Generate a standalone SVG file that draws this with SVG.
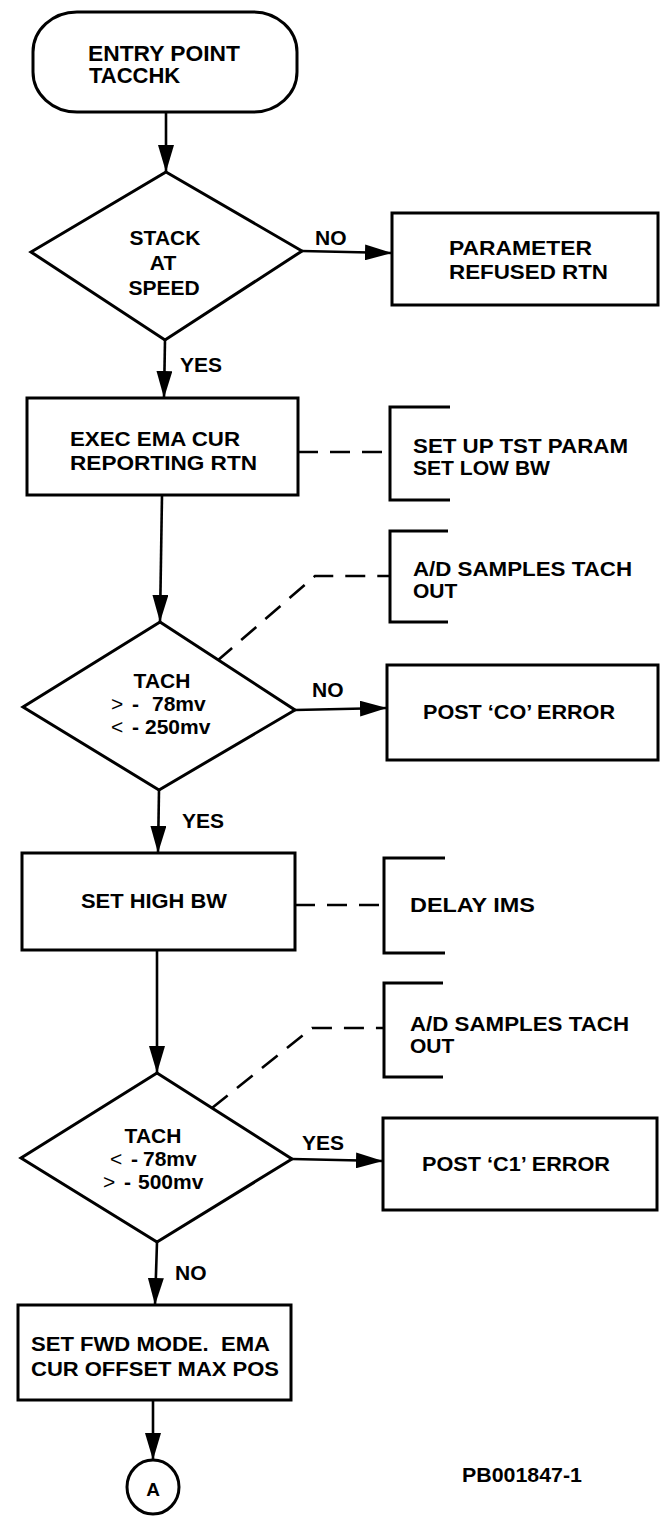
<svg xmlns="http://www.w3.org/2000/svg" width="660" height="1516" viewBox="0 0 660 1516">
<style>
  .shape { fill: #fff; stroke: #000; stroke-width: 3; stroke-linejoin: miter; }
  .bracket { fill: none; stroke: #000; stroke-width: 3; }
  .conn { fill: none; stroke: #000; stroke-width: 2.6; }
  .dash { fill: none; stroke: #000; stroke-width: 2.6; stroke-dasharray: 20 12; }
  text { font-family: "Liberation Sans", Arial, sans-serif; font-weight: bold; font-size: 21px; fill: #000; }
  .mid { text-anchor: middle; }
  .sym { font-weight: normal; font-size: 21px; }
</style>
<defs>
  <marker id="arrow" markerUnits="userSpaceOnUse" markerWidth="27" markerHeight="16" refX="27" refY="8" orient="auto">
    <path d="M0,0 L27,8 L0,16 Z" fill="#000"/>
  </marker>
</defs>

<g id="connectors">
  <line class="conn" x1="166" y1="112" x2="166" y2="172" marker-end="url(#arrow)"/>
  <line class="conn" x1="302" y1="251" x2="392" y2="253" marker-end="url(#arrow)"/>
  <line class="conn" x1="165" y1="340" x2="164" y2="398" marker-end="url(#arrow)"/>
  <polyline class="dash" points="298,452 390,452"/>
  <line class="conn" x1="162" y1="495" x2="160" y2="622" marker-end="url(#arrow)"/>
  <polyline class="dash" points="217,661 315,576 390,576"/>
  <line class="conn" x1="295" y1="710" x2="387" y2="708" marker-end="url(#arrow)"/>
  <line class="conn" x1="159" y1="790" x2="158" y2="853" marker-end="url(#arrow)"/>
  <polyline class="dash" points="295,905 384,905"/>
  <line class="conn" x1="157" y1="950" x2="157" y2="1073" marker-end="url(#arrow)"/>
  <polyline class="dash" points="212,1108 312,1028 384,1028"/>
  <line class="conn" x1="292" y1="1159" x2="383" y2="1161" marker-end="url(#arrow)"/>
  <line class="conn" x1="157" y1="1242" x2="155" y2="1305" marker-end="url(#arrow)"/>
  <line class="conn" x1="153" y1="1400" x2="153" y2="1460" marker-end="url(#arrow)"/>
  <text x="315" y="245">NO</text>
  <text x="180" y="372">YES</text>
  <text x="312" y="697">NO</text>
  <text x="182" y="828">YES</text>
  <text x="302" y="1150">YES</text>
  <text x="175" y="1280">NO</text>
</g>

<g id="entry">
  <rect class="shape" x="33" y="12" width="264" height="100" rx="44" ry="40"/>
  <text x="88" y="61" style="font-size:22px" textLength="152" lengthAdjust="spacingAndGlyphs">ENTRY POINT</text>
  <text x="89" y="83" style="font-size:22px">TACCHK</text>
</g>

<g id="stack-at-speed">
  <polygon class="shape" points="166,172 302,251 165,340 31,252"/>
  <text class="mid" x="165" y="245">STACK</text>
  <text class="mid" x="163" y="270">AT</text>
  <text class="mid" x="164" y="295">SPEED</text>
</g>

<g id="param-refused">
  <rect class="shape" x="392" y="213" width="266" height="92"/>
  <text x="449" y="255" textLength="143" lengthAdjust="spacingAndGlyphs">PARAMETER</text>
  <text x="449" y="279" textLength="159" lengthAdjust="spacingAndGlyphs">REFUSED RTN</text>
</g>

<g id="exec-ema">
  <rect class="shape" x="27" y="398" width="271" height="97"/>
  <text x="70" y="446" textLength="170" lengthAdjust="spacingAndGlyphs">EXEC EMA CUR</text>
  <text x="70" y="470" textLength="187" lengthAdjust="spacingAndGlyphs">REPORTING RTN</text>
</g>

<g id="note-setup">
  <polyline class="bracket" points="450,407 390,407 390,500 450,500"/>
  <text x="413" y="453" textLength="215" lengthAdjust="spacingAndGlyphs">SET UP TST PARAM</text>
  <text x="413" y="475" textLength="137" lengthAdjust="spacingAndGlyphs">SET LOW BW</text>
</g>

<g id="tach-1">
  <polygon class="shape" points="160,622 295,710 159,790 23,707"/>
  <text class="mid" x="162" y="688">TACH</text>
  <text y="711"><tspan class="sym" x="111">&gt;</tspan><tspan x="132">-</tspan><tspan x="152">78mv</tspan></text>
  <text y="734"><tspan class="sym" x="111">&lt;</tspan><tspan x="132">-</tspan><tspan x="145">250mv</tspan></text>
</g>

<g id="note-ad-1">
  <polyline class="bracket" points="448,531 390,531 390,622 448,622"/>
  <text x="413" y="576" textLength="219" lengthAdjust="spacingAndGlyphs">A/D SAMPLES TACH</text>
  <text x="413" y="598">OUT</text>
</g>

<g id="post-co">
  <rect class="shape" x="387" y="665" width="271" height="95"/>
  <text x="423" y="719" textLength="192" lengthAdjust="spacingAndGlyphs">POST ‘CO’ ERROR</text>
</g>

<g id="set-high-bw">
  <rect class="shape" x="22" y="853" width="273" height="97"/>
  <text x="81" y="908" textLength="146" lengthAdjust="spacingAndGlyphs">SET HIGH BW</text>
</g>

<g id="note-delay">
  <polyline class="bracket" points="445,858 384,858 384,953 445,953"/>
  <text x="410" y="912" textLength="125" lengthAdjust="spacingAndGlyphs">DELAY IMS</text>
</g>

<g id="tach-2">
  <polygon class="shape" points="157,1073 292,1159 157,1242 21,1158"/>
  <text class="mid" x="153" y="1143">TACH</text>
  <text y="1166"><tspan class="sym" x="110">&lt;</tspan><tspan x="131">-</tspan><tspan x="143">78mv</tspan></text>
  <text y="1189"><tspan class="sym" x="103">&gt;</tspan><tspan x="124">-</tspan><tspan x="138">500mv</tspan></text>
</g>

<g id="note-ad-2">
  <polyline class="bracket" points="443,983 384,983 384,1077 443,1077"/>
  <text x="410" y="1031" textLength="219" lengthAdjust="spacingAndGlyphs">A/D SAMPLES TACH</text>
  <text x="410" y="1053">OUT</text>
</g>

<g id="post-c1">
  <rect class="shape" x="383" y="1118" width="274" height="92"/>
  <text x="422" y="1171" textLength="188" lengthAdjust="spacingAndGlyphs">POST ‘C1’ ERROR</text>
</g>

<g id="set-fwd">
  <rect class="shape" x="18" y="1305" width="273" height="95"/>
  <text x="31" y="1351" xml:space="preserve" textLength="239" lengthAdjust="spacingAndGlyphs">SET FWD MODE.  EMA</text>
  <text x="31" y="1376" textLength="248" lengthAdjust="spacingAndGlyphs">CUR OFFSET MAX POS</text>
</g>

<g id="connector-a">
  <ellipse class="shape" cx="153" cy="1487" rx="26" ry="27"/>
  <text class="mid" x="153" y="1496" style="font-size:19px">A</text>
</g>

<g id="figure-id">
  <text x="462" y="1482" textLength="120" lengthAdjust="spacingAndGlyphs">PB001847-1</text>
</g>
</svg>
